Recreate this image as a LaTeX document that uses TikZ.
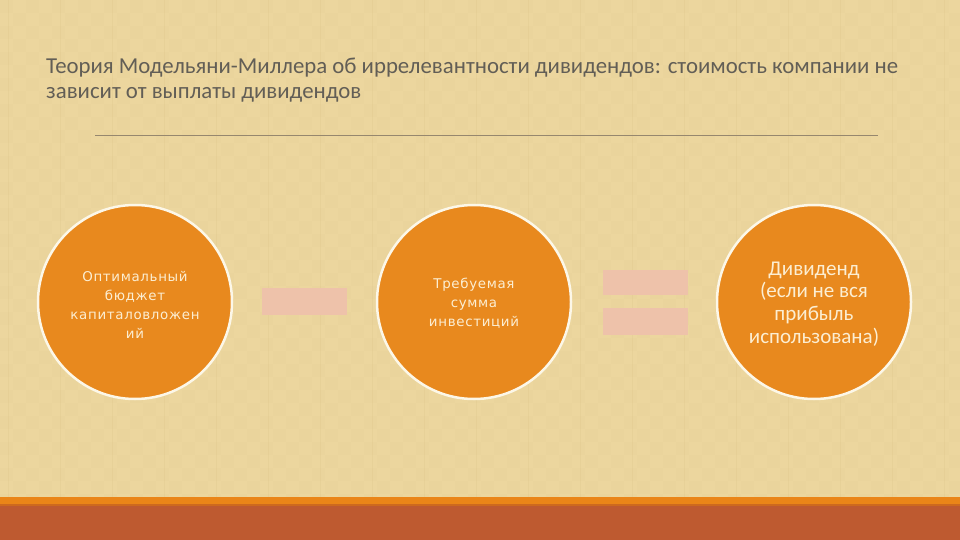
\documentclass[tikz,border=0pt]{standalone}
\usepackage{fontspec}
\setmainfont{Carlito}
\newfontfamily\ballfont[LetterSpace=5]{DejaVu Sans}
\definecolor{paper}{RGB}{236,214,158}
\definecolor{paperdark}{RGB}{214,190,130}
\definecolor{titlegray}{RGB}{98,94,86}
\definecolor{rulegray}{RGB}{150,135,110}
\definecolor{ballorange}{RGB}{232,137,30}
\definecolor{rimwhite}{RGB}{252,247,232}
\definecolor{textcream}{RGB}{252,238,210}
\definecolor{signpink}{RGB}{238,194,170}
\definecolor{stripeorange}{RGB}{234,133,24}
\definecolor{stripedark}{RGB}{205,105,30}
\definecolor{footred}{RGB}{190,90,48}

\begin{document}
\begin{tikzpicture}[x=1pt, y=-1pt,
        ball/.style={circle, draw=rimwhite, line width=2.5pt, fill=ballorange,
            minimum size=194pt, inner sep=0pt},
        smalltext/.style={align=center, text=textcream, font=\ballfont\fontsize{13.4}{19.2}\selectfont},
        bigtext/.style={align=center, text=textcream, font=\fontsize{21}{22.8}\selectfont},
        signbar/.style={rectangle, fill=signpink, minimum width=85pt, inner sep=0pt}
    ]
        % фон (плетёная текстура) и полосы внизу
        \fill[paper] (0,0) rectangle (960,540);
        \useasboundingbox (0,0) rectangle (960,540);
        \foreach \i in {0,...,73} {
            \foreach \j in {0,...,38} {
                \pgfmathtruncatemacro{\cell}{mod(\i+\j,2)}
                \ifnum\cell=0
                    \fill[paperdark, opacity=0.07] (\i*13,\j*13) rectangle ++(13,13);
                \fi
            }
        }
        \foreach \i in {0,...,18}
            \draw[paperdark, opacity=0.2, line width=1pt] (\i*52+8,0) -- (\i*52+8,497);
        \fill[stripeorange] (0,497) rectangle (960,504);
        \fill[stripedark] (0,504) rectangle (960,506);
        \fill[footred] (0,506) rectangle (960,540);

        % заголовок
        \node[anchor=north west, inner sep=0pt, align=left, text=titlegray,
            font=\fontsize{22.8}{25}\selectfont] (title) at (46,58)
            {Теория Модельяни-Миллера об иррелевантности дивидендов: стоимость компании не\\
             зависит от выплаты дивидендов};
        \draw[rulegray, line width=0.8pt] (95,135) -- (878,135);

        % круги
        \node[ball] (budget) at (135,302) {};
        \node[ball] (invest) at (474,302) {};
        \node[ball] (dividend) at (814,302) {};
        \node[smalltext] (budgettext) at ([yshift=-3pt]budget.center)
            {Оптимальный\\бюджет\\капиталовложен\\ий};
        \node[smalltext] (investtext) at ([yshift=-1pt]invest.center)
            {Требуемая\\сумма\\инвестиций};
        \node[bigtext] (dividendtext) at ([yshift=-2pt]dividend.center)
            {Дивиденд\\(если не вся\\прибыль\\использована)};

        % знаки минус и равно
        \node[signbar, minimum height=27pt] (minus) at (304.5,301.5) {};
        \node[signbar, minimum height=25pt] (eqtop) at (645,282.5) {};
        \node[signbar, minimum height=27pt] (eqbot) at (645,321.5) {};
    \end{tikzpicture}
\end{document}
